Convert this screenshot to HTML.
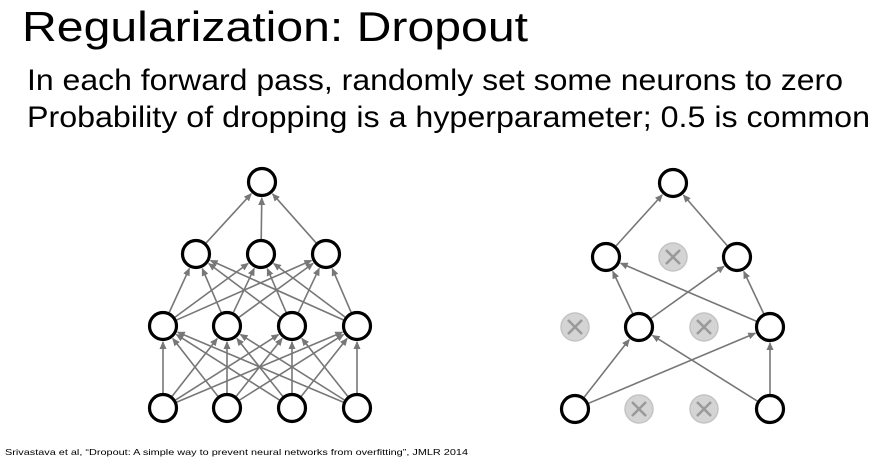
<!DOCTYPE html>
<html><head><meta charset="utf-8"><style>
html,body{margin:0;padding:0;background:#fff;width:877px;height:466px;overflow:hidden}
svg{display:block}
text{font-family:"Liberation Sans",Arial,sans-serif;fill:#000}
</style></head><body>
<svg id="s" width="877" height="466" viewBox="0 0 877 466">
<defs><marker id="a" markerWidth="8" markerHeight="8" refX="7" refY="4" orient="auto" markerUnits="userSpaceOnUse"><path d="M0,0.5 L8,4 L0,7.5 z" fill="#777"/></marker></defs>
<text x="22" y="41" font-size="42" textLength="506" lengthAdjust="spacingAndGlyphs">Regularization: Dropout</text>
<text x="27" y="90" font-size="30" textLength="816" lengthAdjust="spacingAndGlyphs">In each forward pass, randomly set some neurons to zero</text>
<text x="27" y="127" font-size="30" textLength="843" lengthAdjust="spacingAndGlyphs">Probability of dropping is a hyperparameter; 0.5 is common</text>
<text x="5" y="455" font-size="8.5" textLength="463" lengthAdjust="spacingAndGlyphs">Srivastava et al, “Dropout: A simple way to prevent neural networks from overfitting”, JMLR 2014</text>
<g id="e"></g><g id="n"></g>
</svg>
<script>
var NS="http://www.w3.org/2000/svg",E=document.getElementById("e"),N=document.getElementById("n"),R=15;
function el(t,a,p){var x=document.createElementNS(NS,t);for(var k in a)x.setAttribute(k,a[k]);p.appendChild(x);return x;}
function edge(p,q){var dx=q[0]-p[0],dy=q[1]-p[1],d=Math.sqrt(dx*dx+dy*dy),ux=dx/d,uy=dy/d;
el("line",{x1:p[0]+ux*R,y1:p[1]+uy*R,x2:q[0]-ux*(R+1),y2:q[1]-uy*(R+1),stroke:"#777","stroke-width":1.6,"marker-end":"url(#a)"},E);}
function node(p){el("circle",{cx:p[0],cy:p[1],r:13.5,fill:"#fff",stroke:"#000","stroke-width":3.2},N);}
function drop(p){el("circle",{cx:p[0],cy:p[1],r:14,fill:"#d4d4d4",stroke:"#c4c4c4","stroke-width":1.5},N);
el("path",{d:"M"+(p[0]-7)+","+(p[1]-7)+"L"+(p[0]+7)+","+(p[1]+7)+"M"+(p[0]+7)+","+(p[1]-7)+"L"+(p[0]-7)+","+(p[1]+7),stroke:"#999","stroke-width":2.5},N);}
var T=[[262,182]],L2=[[196,254],[261,254],[326,254]],xs=[163,227,292,357],L3=xs.map(function(x){return[x,326]}),L4=xs.map(function(x){return[x,408]});
L2.forEach(function(p){edge(p,T[0])});
L3.forEach(function(p){L2.forEach(function(q){edge(p,q)})});
L4.forEach(function(p){L3.forEach(function(q){edge(p,q)})});
T.concat(L2,L3,L4).forEach(node);
var t=[673,183],a=[606,257],b=[673,257],c=[737,257],d=[575,327],f=[639,327],g=[704,327],h=[770,327],i=[575,409],j=[639,409],k=[704,409],l=[770,409];
[[a,t],[c,t],[f,a],[f,c],[h,a],[h,c],[i,f],[i,h],[l,f],[l,h]].forEach(function(z){edge(z[0],z[1])});
[t,a,c,f,h,i,l].forEach(node);[b,d,g,j,k].forEach(drop);
</script>
</body></html>
